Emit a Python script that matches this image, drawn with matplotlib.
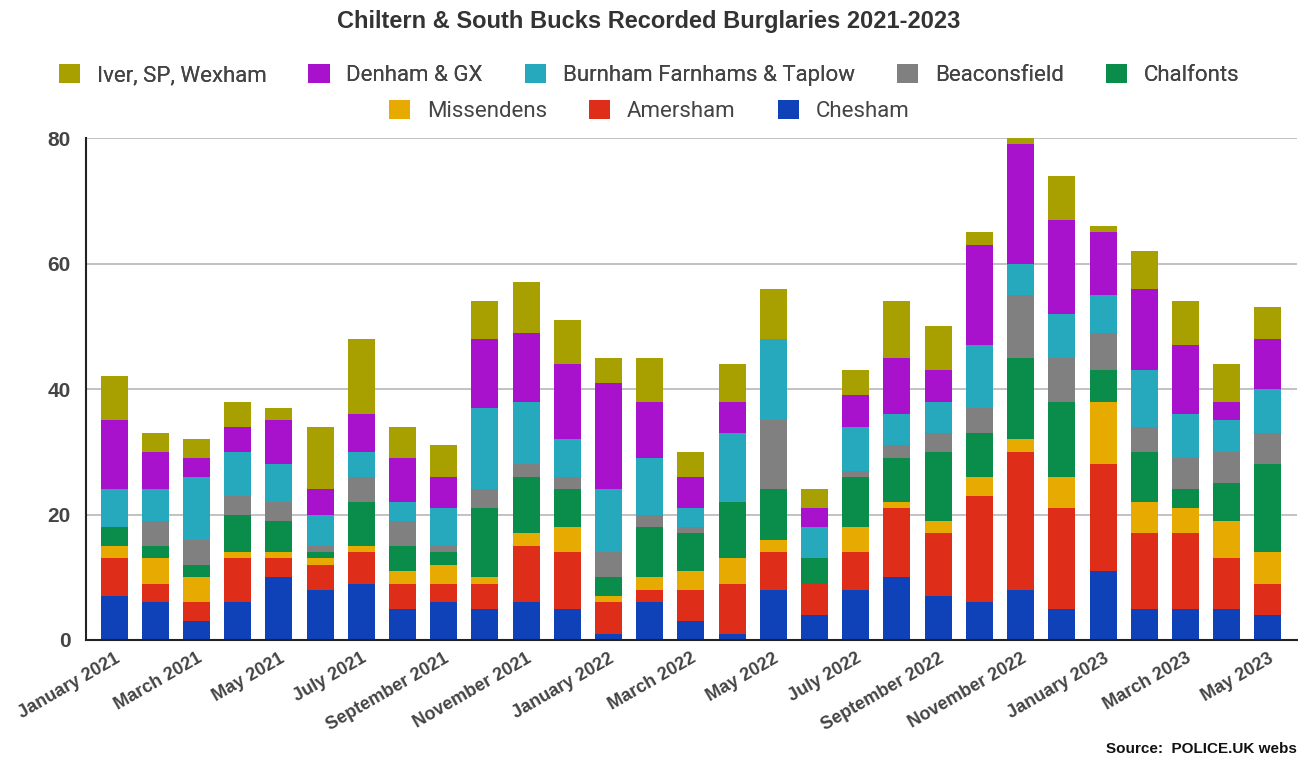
import numpy as np
import matplotlib
matplotlib.use('Agg')
import matplotlib.pyplot as plt
from matplotlib.patches import Patch

# -----------------------------
# Data
# -----------------------------
months = ['January 2021', 'February 2021', 'March 2021', 'April 2021', 'May 2021',
          'June 2021', 'July 2021', 'August 2021', 'September 2021', 'October 2021',
          'November 2021', 'December 2021', 'January 2022', 'February 2022',
          'March 2022', 'April 2022', 'May 2022', 'June 2022', 'July 2022',
          'August 2022', 'September 2022', 'October 2022', 'November 2022',
          'December 2022', 'January 2023', 'February 2023', 'March 2023',
          'April 2023', 'May 2023']

chesham      = [7, 6, 3, 6, 10, 8, 9, 5, 6, 5, 6, 5, 1, 6, 3, 1, 8, 4, 8, 10, 7, 6, 8, 5, 11, 5, 5, 5, 4]
amersham     = [6, 3, 3, 7, 3, 4, 5, 4, 3, 4, 9, 9, 5, 2, 5, 8, 6, 5, 6, 11, 10, 17, 22, 16, 17, 12, 12, 8, 5]
missendens   = [2, 4, 4, 1, 1, 1, 1, 2, 3, 1, 2, 4, 1, 2, 3, 4, 2, 0, 4, 1, 2, 3, 2, 5, 10, 5, 4, 6, 5]
chalfonts    = [3, 2, 2, 6, 5, 1, 7, 4, 2, 11, 9, 6, 3, 8, 6, 9, 8, 4, 8, 7, 11, 7, 13, 12, 5, 8, 3, 6, 14]
beaconsfield = [0, 4, 4, 3, 3, 1, 4, 4, 1, 3, 2, 2, 4, 2, 1, 0, 11, 0, 1, 2, 3, 4, 10, 7, 6, 4, 5, 5, 5]
burnham      = [6, 5, 10, 7, 6, 5, 4, 3, 6, 13, 10, 6, 10, 9, 3, 11, 13, 5, 7, 5, 5, 10, 5, 7, 6, 9, 7, 5, 7]
denham       = [11, 6, 3, 4, 7, 4, 6, 7, 5, 11, 11, 12, 17, 9, 5, 5, 0, 3, 5, 9, 5, 16, 19, 15, 10, 13, 11, 3, 8]
iver         = [7, 3, 3, 4, 2, 10, 12, 5, 5, 6, 8, 7, 4, 7, 4, 6, 8, 3, 4, 9, 7, 2, 1, 7, 1, 6, 7, 6, 5]

series = [
    ('Chesham', chesham, '#0f41b9'),
    ('Amersham', amersham, '#de2d19'),
    ('Missendens', missendens, '#e6aa00'),
    ('Chalfonts', chalfonts, '#0a8c4b'),
    ('Beaconsfield', beaconsfield, '#808080'),
    ('Burnham Farnhams & Taplow', burnham, '#26a9bd'),
    ('Denham & GX', denham, '#a812cc'),
    ('Iver, SP, Wexham', iver, '#a8a000'),
]
colors = {name: c for name, _, c in series}

# -----------------------------
# Plot
# -----------------------------
plt.rcParams['font.family'] = ['Liberation Sans', 'DejaVu Sans']

fig = plt.figure(figsize=(12.98, 7.65), dpi=100)
ax = fig.add_axes([0.0663, 0.1634, 0.9330, 0.6562])

x = np.arange(len(months))
bottom = np.zeros(len(months))
for name, vals, col in series:
    ax.bar(x, vals, bottom=bottom, width=0.655, color=col, linewidth=0, zorder=3)
    bottom += np.array(vals)

ax.set_ylim(0, 80)
ax.set_xlim(-0.68, 28.71)
ax.set_yticks([0, 20, 40, 60, 80])
ax.yaxis.grid(True, color='#b8b8b8', linewidth=1.2, zorder=0)
ax.tick_params(axis='both', length=0)
for lab in ax.get_yticklabels():
    lab.set_fontsize(15)
    lab.set_fontweight('bold')
    lab.set_color('#444444')
ax.tick_params(axis='y', pad=11)

ax.set_xticks(x)
ax.set_xticklabels([m if i % 2 == 0 else '' for i, m in enumerate(months)],
                   rotation=30, ha='right', rotation_mode='anchor',
                   fontsize=13, fontweight='bold', color='#444444')
ax.tick_params(axis='x', pad=7)

for side in ['top', 'right']:
    ax.spines[side].set_visible(False)
ax.spines['left'].set_color('#222222')
ax.spines['bottom'].set_color('#222222')
ax.spines['left'].set_linewidth(1.5)
ax.spines['bottom'].set_linewidth(1.5)
ax.spines['left'].set_zorder(5)
ax.spines['bottom'].set_zorder(5)

fig.text(0.5, 0.972, 'Chiltern & South Bucks Recorded Burglaries 2021-2023',
         ha='center', va='center', fontsize=17, fontweight='bold', color='#333333')

# legend in two centered rows
row1 = ['Iver, SP, Wexham', 'Denham & GX', 'Burnham Farnhams & Taplow', 'Beaconsfield', 'Chalfonts']
row2 = ['Missendens', 'Amersham', 'Chesham']
leg_kw = dict(frameon=False, handlelength=0.95, handleheight=0.95, handletextpad=0.75,
              columnspacing=1.9, prop={'family': ['Roboto', 'DejaVu Sans'], 'size': 16},
              labelcolor='#444444')
h1 = [Patch(facecolor=colors[n], label=n) for n in row1]
h2 = [Patch(facecolor=colors[n], label=n) for n in row2]
leg1 = fig.legend(handles=h1, ncol=5, loc='center', bbox_to_anchor=(0.5, 0.902), **leg_kw)
fig.add_artist(leg1)
fig.legend(handles=h2, ncol=3, loc='center', bbox_to_anchor=(0.5, 0.855), **leg_kw)

fig.text(0.999, 0.012, 'Source:  POLICE.UK webs', ha='right', va='bottom',
         fontsize=11, fontweight='bold', color='#111111')

fig.savefig('out.png', dpi=100)
